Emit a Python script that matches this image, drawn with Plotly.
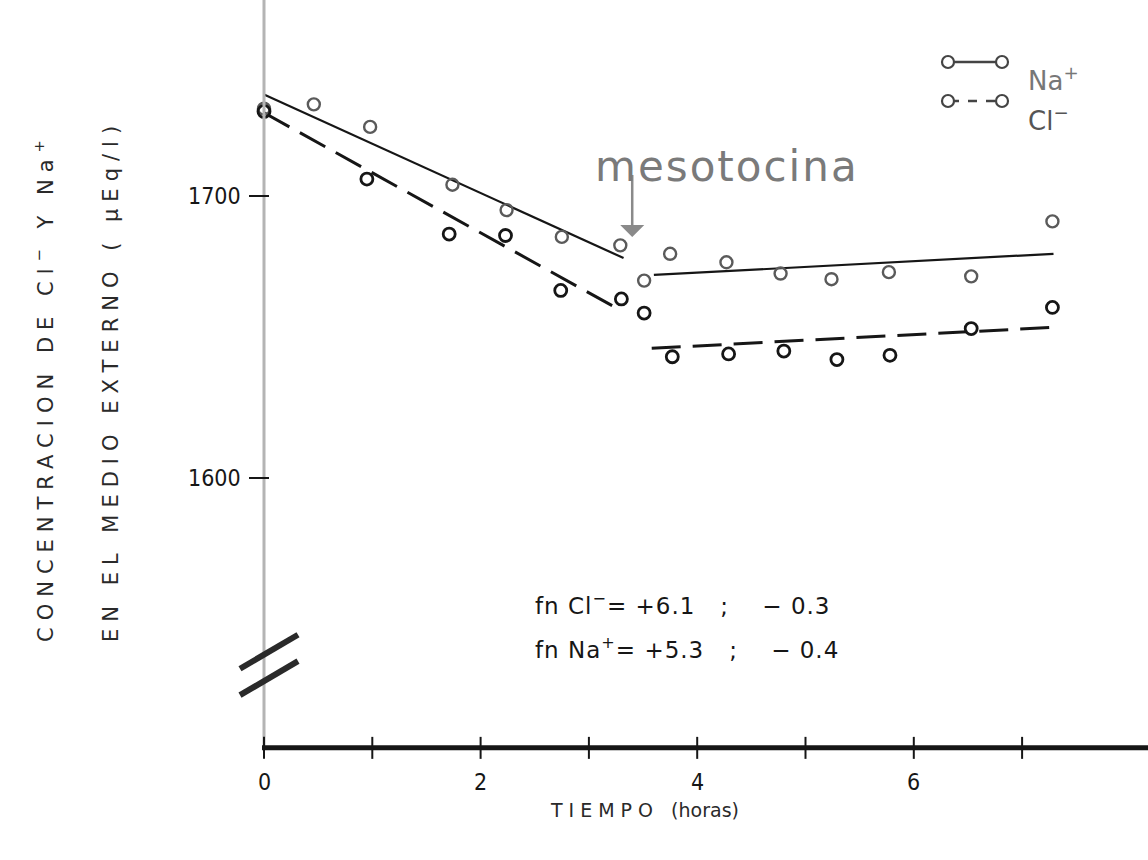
import plotly.graph_objects as go

# ---- data (hours, µEq/l) ----
na_hours = [0, 0.46, 0.98, 1.74, 2.24, 2.75, 3.29, 3.51, 3.75, 4.27, 4.77, 5.24, 5.77, 6.53, 7.28]
na_conc = [1731, 1732.5, 1724.5, 1704, 1695, 1685.5, 1682.5, 1670, 1679.5, 1676.5, 1672.5,
           1670.5, 1673, 1671.5, 1691]

cl_hours = [0, 0.95, 1.71, 2.23, 2.74, 3.30, 3.51, 3.77, 4.29, 4.80, 5.29, 5.78, 6.53, 7.28]
cl_conc = [1730, 1706, 1686.5, 1686, 1666.5, 1663.5, 1658.5, 1643, 1644, 1645, 1642, 1643.5,
           1653, 1660.5]

# regression lines before / after mesotocin
na_fit_pre_h, na_fit_pre_c = [0, 3.32], [1736, 1678]
cl_fit_pre_h, cl_fit_pre_c = [0, 3.29], [1729.5, 1659.5]
na_fit_post_h, na_fit_post_c = [3.6, 7.29], [1672, 1679.5]
cl_fit_post_h, cl_fit_post_c = [3.58, 7.32], [1646, 1653.5]

x_ticks = [0, 1, 2, 3, 4, 5, 6, 7]
x_tick_labels = {0: "0", 2: "2", 4: "4", 6: "6"}
y_ticks = [1600, 1700]
y_tick_labels = ["1600", "1700"]

mesotocin_hour = 3.4
mesotocin_tip, mesotocin_tail = 1685.5, 1708
axis_floor = 1504.3
break_level = 1533.7

# ---- geometry: axes fill the whole page, scale set by ranges ----
W, H = 1148, 860
X0_PX, PX_PER_H = 264, 108.3
Y1700_PX, PX_PER_UNIT = 196, 2.82
x_range = [-X0_PX / PX_PER_H, (W - X0_PX) / PX_PER_H]
y_range = [1700 - (H - Y1700_PX) / PX_PER_UNIT, 1700 + Y1700_PX / PX_PER_UNIT]
dx = 1 / PX_PER_H        # one pixel in hours
dy = 1 / PX_PER_UNIT     # one pixel in concentration units

INK = "#161616"
NUM_FONT = "DejaVu Sans Condensed, Liberation Sans Narrow, DejaVu Sans, sans-serif"
TXT_FONT = "DejaVu Sans, sans-serif"

fig = go.Figure()

# regression lines
for hx, cy in [(na_fit_pre_h, na_fit_pre_c), (na_fit_post_h, na_fit_post_c)]:
    fig.add_trace(go.Scatter(x=hx, y=cy, mode="lines",
                             line=dict(color=INK, width=2.2), hoverinfo="skip"))
for hx, cy in [(cl_fit_pre_h, cl_fit_pre_c), (cl_fit_post_h, cl_fit_post_c)]:
    fig.add_trace(go.Scatter(x=hx, y=cy, mode="lines",
                             line=dict(color=INK, width=3, dash="29px,12px"), hoverinfo="skip"))

# measured points
fig.add_trace(go.Scatter(x=na_hours, y=na_conc, mode="markers", name="Na+",
                         marker=dict(symbol="circle-open", size=12, color="#5a5a5a",
                                     line=dict(width=2.4))))
fig.add_trace(go.Scatter(x=cl_hours, y=cl_conc, mode="markers", name="Cl-",
                         marker=dict(symbol="circle-open", size=12, color=INK,
                                     line=dict(width=2.8))))

shapes = []
# y axis (faint) and x axis (heavy)
shapes.append(dict(type="line", xref="x", yref="y", x0=0, x1=0, y0=axis_floor, y1=y_range[1],
                   line=dict(color="#b4b4b4", width=3)))
shapes.append(dict(type="line", xref="x", yref="y", x0=-2 * dx, x1=x_range[1], y0=axis_floor,
                   y1=axis_floor, line=dict(color=INK, width=5)))
# x ticks crossing the axis
for t in x_ticks:
    shapes.append(dict(type="line", xref="x", yref="y", x0=t, x1=t,
                       y0=axis_floor - 11 * dy, y1=axis_floor + 11 * dy,
                       line=dict(color=INK, width=2)))
# y ticks crossing the axis
for v in y_ticks:
    shapes.append(dict(type="line", xref="x", yref="y", x0=-15 * dx, x1=5 * dx, y0=v, y1=v,
                       line=dict(color=INK, width=2)))
# axis break: two slanted bars
for off in (6, -6):
    shapes.append(dict(type="line", xref="x", yref="y",
                       x0=-24 * dx, x1=34 * dx,
                       y0=break_level + off * dy * 2.2 - 17 * dy,
                       y1=break_level + off * dy * 2.2 + 17 * dy,
                       line=dict(color="#2a2a2a", width=6)))

# legend glyphs (page coordinates)
def px(x):
    return x / W

def py(y):
    return 1 - y / H

for row_y, dash in [(62, "solid"), (101, "dash")]:
    shapes.append(dict(type="line", xref="paper", yref="paper", x0=px(950), x1=px(1000),
                       y0=py(row_y), y1=py(row_y),
                       line=dict(color="#444", width=2.5, dash=dash)))
    for cx in (948, 1002):
        shapes.append(dict(type="circle", xref="paper", yref="paper",
                           x0=px(cx - 6), x1=px(cx + 6), y0=py(row_y - 6), y1=py(row_y + 6),
                           line=dict(color="#444", width=2.2), fillcolor="white"))

annotations = []
# x tick labels
for t, lab in x_tick_labels.items():
    annotations.append(dict(x=t, y=axis_floor - 34 * dy, xref="x", yref="y", text=lab,
                            showarrow=False, font=dict(family=NUM_FONT, size=23, color=INK)))
# y tick labels
for v, lab in zip(y_ticks, y_tick_labels):
    annotations.append(dict(x=-21 * dx, y=v, xref="x", yref="y", text=lab, xanchor="right",
                            showarrow=False, font=dict(family=NUM_FONT, size=23, color=INK)))

# mesotocin arrow and label
annotations.append(dict(x=mesotocin_hour, y=mesotocin_tip, xref="x", yref="y",
                        ax=mesotocin_hour, ay=mesotocin_tail, axref="x", ayref="y",
                        text="", showarrow=True, arrowhead=1, arrowsize=1.6, arrowwidth=2.5,
                        arrowcolor="#8a8a8a"))
annotations.append(dict(x=px(727), y=py(140), xref="paper", yref="paper",
                        text='<span style="letter-spacing:2px">mesotocina</span>',
                        showarrow=False, font=dict(family=TXT_FONT, size=42, color="#7a7a7a")))

# legend labels
annotations.append(dict(x=px(1026), y=py(60), xref="paper", yref="paper", xanchor="left",
                        text="Na<sup>+</sup>", showarrow=False,
                        font=dict(family=TXT_FONT, size=26, color="#777")))
annotations.append(dict(x=px(1026), y=py(100), xref="paper", yref="paper", xanchor="left",
                        text="Cl<sup>−</sup>", showarrow=False,
                        font=dict(family=TXT_FONT, size=26, color="#555")))

# flux values
sp = "\u00a0"
annotations.append(dict(x=px(533), y=py(621), xref="paper", yref="paper", xanchor="left",
                        text=f'<span style="letter-spacing:1px">fn Cl<sup>−</sup>= +6.1{sp*3};{sp*4}− 0.3</span>',
                        showarrow=False, font=dict(family=TXT_FONT, size=23, color=INK)))
annotations.append(dict(x=px(533), y=py(665), xref="paper", yref="paper", xanchor="left",
                        text=f'<span style="letter-spacing:1px">fn Na<sup>+</sup>= +5.3{sp*3};{sp*4}− 0.4</span>',
                        showarrow=False, font=dict(family=TXT_FONT, size=23, color=INK)))

# axis titles
annotations.append(dict(x=px(28), y=py(388), xref="paper", yref="paper", textangle=-90,
                        text='<span style="letter-spacing:7px">CONCENTRACION DE Cl<sup>−</sup> Y Na<sup>+</sup></span>',
                        showarrow=False, font=dict(family=TXT_FONT, size=21, color="#2a2a2a")))
annotations.append(dict(x=px(97), y=py(381), xref="paper", yref="paper", textangle=-90,
                        text='<span style="letter-spacing:7px">EN EL MEDIO EXTERNO ( µEq/l)</span>',
                        showarrow=False, font=dict(family=TXT_FONT, size=21, color="#2a2a2a")))
annotations.append(dict(x=px(548), y=py(823), xref="paper", yref="paper", xanchor="left",
                        text='<span style="letter-spacing:6px">TIEMPO</span>' + sp * 2 + "(horas)",
                        showarrow=False, font=dict(family=TXT_FONT, size=19, color="#2a2a2a")))

fig.update_layout(
    width=W, height=H, margin=dict(l=0, r=0, t=0, b=0),
    paper_bgcolor="white", plot_bgcolor="white", showlegend=False,
    xaxis=dict(range=x_range, visible=False, fixedrange=True),
    yaxis=dict(range=y_range, visible=False, fixedrange=True),
    shapes=shapes, annotations=annotations,
)

fig.write_html("out.html")
